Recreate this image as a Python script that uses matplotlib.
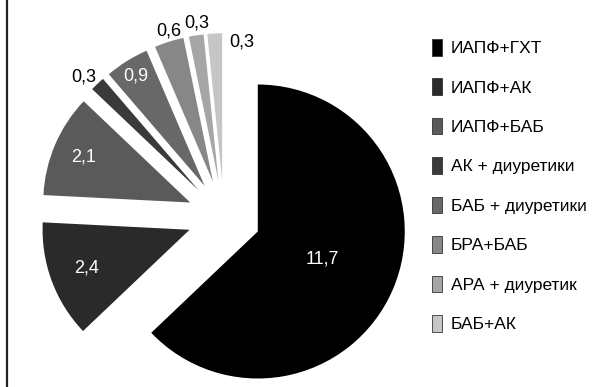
import numpy as np
import matplotlib
matplotlib.use('Agg')
import matplotlib.pyplot as plt
from matplotlib.lines import Line2D

plt.rcParams['font.family'] = ['Liberation Sans', 'DejaVu Sans']

labels = ['ИАПФ+ГХТ', 'ИАПФ+АК', 'ИАПФ+БАБ', 'АК + диуретики',
          'БАБ + диуретики', 'БРА+БАБ', 'АРА + диуретик', 'БАБ+АК']
values = [11.7, 2.4, 2.1, 0.3, 0.9, 0.6, 0.3, 0.3]
value_text = ['11,7', '2,4', '2,1', '0,3', '0,9', '0,6', '0,3', '0,3']
colors = ['#000000', '#2a2a2a', '#5a5a5a', '#3a3a3a',
          '#686868', '#878787', '#a6a6a6', '#c6c6c6']

# label placement (fraction of radius, angle nudge in degrees, colour)
label_r = [0.48, 0.75, 0.79, 1.10, 0.88, 1.07, 1.08, 0.95]
label_da = [0, 0, 0, 2, 0, -1, -1, -11]
label_col = ['white', 'white', 'white', 'black', 'white', 'black', 'black', 'black']

fig = plt.figure(figsize=(5.95, 3.87), dpi=100)
ax = fig.add_axes([0, 0, 1, 1])

wedges, _ = ax.pie(values, colors=colors, startangle=90, counterclock=False,
                   explode=[0.25] * len(values),
                   wedgeprops=dict(linewidth=0))

for w, t, rf, da, c in zip(wedges, value_text, label_r, label_da, label_col):
    mid = np.deg2rad((w.theta1 + w.theta2) / 2 + da)
    cx, cy = w.center
    ax.text(cx + rf * w.r * np.cos(mid), cy + rf * w.r * np.sin(mid), t,
            ha='center', va='center', color=c, fontsize=13)

ax.set_xlim(-1.524, 2.524)
ax.set_ylim(-1.156, 1.476)
ax.set_aspect('equal')
ax.axis('off')

leg = fig.legend(wedges, labels, loc='upper left', bbox_to_anchor=(0.699, 0.94),
                 frameon=False, fontsize=12.5, handlelength=0.6, handleheight=1.1,
                 handletextpad=0.5, labelspacing=1.28)
for h in leg.legend_handles:
    h.set_edgecolor('#333333')
    h.set_linewidth(0.6)

fig.add_artist(Line2D([0.012, 0.012], [0, 1], color='#222222', linewidth=1.6))

fig.savefig('out.png', dpi=100)
